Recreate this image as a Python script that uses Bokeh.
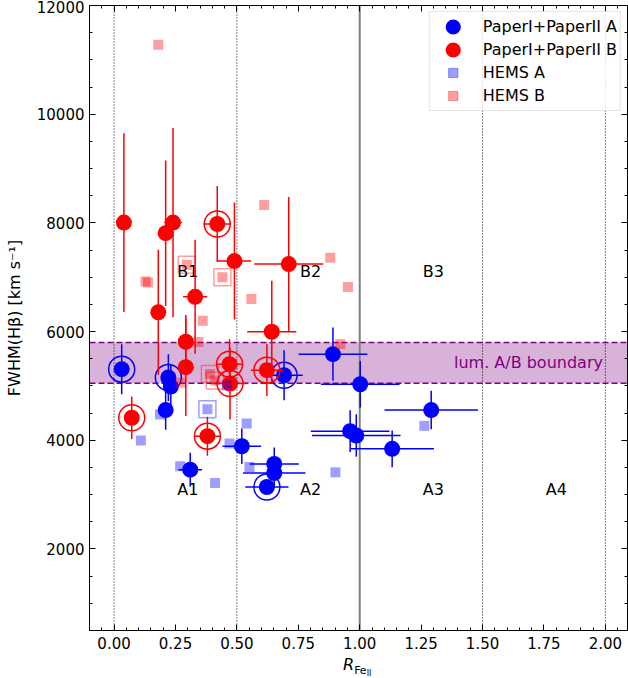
import numpy as np
from bokeh.plotting import figure
from bokeh.layouts import column
from bokeh.models import (Span, BoxAnnotation, Label, Legend, LegendItem, Div,
                          LinearAxis, Range1d, SingleIntervalTicker, NumeralTickFormatter)
from bokeh.embed import file_html
from bokeh.resources import INLINE
from bokeh.core.properties import value

FONT = "DejaVu Sans"

# ---------------- data ----------------
# PaperI+PaperII, population A (blue)
a_x = [0.031, 0.221, 0.231, 0.210, 0.310, 0.520, 0.652, 0.652, 0.622, 0.692, 0.891, 1.002, 1.291, 0.961, 0.986, 1.132]
a_y = [5308, 5155, 4988, 4556, 3460, 3890, 3565, 3398, 3140, 5197, 5585, 5031, 4556, 4168, 4088, 3842]
a_xerr = [0.0, 0.0, 0.0, 0.0, 0.048, 0.078, 0.100, 0.127, 0.088, 0.076, 0.140, 0.160, 0.190, 0.160, 0.180, 0.170]
a_yerr = [460, 430, 400, 360, 310, 325, 300, 250, 0, 460, 490, 430, 355, 385, 390, 340]
a_circled = [1, 1, 0, 0, 0, 0, 0, 0, 1, 1, 0, 0, 0, 0, 0, 0]

# PaperI+PaperII, population B (red)
b_x = [0.040, 0.210, 0.240, 0.420, 0.490, 0.711, 0.642, 0.180, 0.330, 0.292, 0.292, 0.072, 0.380, 0.470, 0.472, 0.622]
b_y = [8006, 7810, 8006, 7980, 7298, 7243, 5997, 6355, 6640, 5813, 5345, 4415, 4075, 5400, 5043, 5290]
b_xerr = [0.0, 0.0, 0.036, 0.056, 0.068, 0.140, 0.100, 0.0, 0.049, 0.0, 0.0, 0.0, 0.053, 0.054, 0.070, 0.065]
b_yerr = [1645, 1340, 1740, 700, 1075, 1235, 940, 1150, 1050, 490, 900, 390, 360, 460, 660, 475]
b_circled = [0, 0, 0, 1, 0, 0, 0, 0, 0, 0, 0, 1, 1, 1, 1, 1]

# HEMS A
ha_x = [0.109, 0.187, 0.380, 0.269, 0.411, 0.470, 0.540, 0.551, 1.263, 0.901, 0.459]
ha_y = [3996, 4476, 4569, 3521, 3214, 3940, 4310, 3510, 4265, 3410, 5010]
ha_boxed = [0, 0, 1, 0, 0, 0, 0, 0, 0, 0, 0]

# HEMS B
hb_x = [0.180, 0.128, 0.138, 0.296, 0.441, 0.559, 0.611, 0.880, 0.952, 0.361, 0.343, 0.390, 0.410, 0.921, 0.270]
hb_y = [11280, 6920, 6905, 7230, 7000, 6600, 8330, 7360, 6820, 6200, 5810, 5220, 5100, 5770, 5060]
hb_boxed = [0, 0, 0, 1, 1, 0, 0, 0, 0, 0, 0, 1, 1, 0, 0]

# luminosity A/B boundary band
band_low, band_high = 5050, 5800

# region boundaries and labels
dotted_x = [0.0, 0.5, 1.5, 2.0]
solid_x = 1.0
b_labels = ["B1", "B2", "B3"]
b_lab_x = [0.3, 0.8, 1.3]
b_lab_y = 7100
a_labels = ["A1", "A2", "A3", "A4"]
a_lab_x = [0.3, 0.8, 1.3, 1.8]
a_lab_y = 3100

BLUE = "#0000ff"
RED = "#ff0000"
PURPLE = "#800080"

p = figure(width=628, height=654, x_range=Range1d(-0.1, 2.09), y_range=Range1d(500, 12000),
           output_backend="svg", toolbar_location=None,
           min_border_left=89, min_border_right=1, min_border_top=5, min_border_bottom=24)
p.grid.visible = False
p.outline_line_color = "black"
p.outline_line_width = 1
p.background_fill_color = "white"
p.border_fill_color = "white"

# axes
p.xaxis.ticker = SingleIntervalTicker(interval=0.25, num_minor_ticks=5)
p.yaxis.ticker = SingleIntervalTicker(interval=2000, num_minor_ticks=4)
p.xaxis.formatter = NumeralTickFormatter(format="0.00")
p.yaxis.formatter = NumeralTickFormatter(format="0")
for ax in (p.xaxis[0], p.yaxis[0]):
    ax.major_tick_in = 6
    ax.major_tick_out = 0
    ax.minor_tick_in = 3
    ax.minor_tick_out = 0
    ax.axis_line_color = "black"
    ax.major_tick_line_color = "black"
    ax.minor_tick_line_color = "black"
    ax.major_label_text_font = FONT
    ax.major_label_text_font_size = "15px"
    ax.major_label_text_color = "black"
    ax.axis_label_text_font = FONT
    ax.axis_label_text_font_style = "normal"
    ax.axis_label_text_font_size = "16px"
    ax.axis_label_text_color = "black"
p.yaxis.axis_label = "FWHM(Hβ) [km s⁻¹]"
p.yaxis.axis_label_standoff = 10
p.xaxis.major_label_standoff = 6

# mirrored tick marks on top and right
for loc, tick in (("above", SingleIntervalTicker(interval=0.25, num_minor_ticks=5)),
                  ("right", SingleIntervalTicker(interval=2000, num_minor_ticks=4))):
    ax = LinearAxis(ticker=tick, major_label_text_font_size="1px", major_label_text_color=None,
                    major_label_standoff=0,
                    major_tick_in=6, major_tick_out=0, minor_tick_in=3, minor_tick_out=0,
                    axis_line_color="black")
    p.add_layout(ax, loc)

# band
p.add_layout(BoxAnnotation(bottom=band_low, top=band_high, fill_color=PURPLE, fill_alpha=0.3,
                           line_color=None, level="underlay"))
for yv in (band_low, band_high):
    p.add_layout(Span(location=yv, dimension="width", line_color=PURPLE, line_dash="6 3",
                      line_width=1.5, level="underlay"))
p.add_layout(Label(x=1.99, y=(band_low + band_high) / 2, text="lum. A/B boundary",
                   text_align="right", text_baseline="middle", text_color=PURPLE,
                   text_font=FONT, text_font_size="16px"))

for xv in dotted_x:
    p.add_layout(Span(location=xv, dimension="height", line_color="black", line_dash="1 2",
                      line_width=1, level="underlay"))
p.add_layout(Span(location=solid_x, dimension="height", line_color="gray", line_width=2,
                  level="underlay"))

# region labels
p.text(x=b_lab_x, y=[b_lab_y] * len(b_lab_x), text=b_labels, text_align="center",
       text_baseline="middle", text_font=value(FONT), text_font_size="16px", text_color="black")
p.text(x=a_lab_x, y=[a_lab_y] * len(a_lab_x), text=a_labels, text_align="center",
       text_baseline="middle", text_font=value(FONT), text_font_size="16px", text_color="black")


def paper_points(xs, ys, xe, ye, circ, color):
    xs = np.array(xs, float); ys = np.array(ys, float)
    xe = np.array(xe, float); ye = np.array(ye, float)
    circ = np.array(circ, bool)
    hx = xe > 0
    p.segment(x0=xs[hx] - xe[hx], x1=xs[hx] + xe[hx], y0=ys[hx], y1=ys[hx],
              line_color=color, line_width=1.5)
    hy = ye > 0
    p.segment(x0=xs[hy], x1=xs[hy], y0=ys[hy] - ye[hy], y1=ys[hy] + ye[hy],
              line_color=color, line_width=1.5)
    p.scatter(xs, ys, marker="circle", size=16, fill_color=color, line_color=None)
    p.scatter(xs[circ], ys[circ], marker="circle", size=26, fill_color=None,
              line_color=color, line_width=1.5)


def hems_points(xs, ys, boxed, color):
    xs = np.array(xs, float); ys = np.array(ys, float)
    boxed = np.array(boxed, bool)
    p.scatter(xs, ys, marker="square", size=10, fill_color=color, fill_alpha=0.38,
              line_color=None)
    p.scatter(xs[boxed], ys[boxed], marker="square", size=17, fill_color=None,
              line_color=color, line_alpha=0.38, line_width=1.5)


paper_points(a_x, a_y, a_xerr, a_yerr, a_circled, BLUE)
paper_points(b_x, b_y, b_xerr, b_yerr, b_circled, RED)
hems_points(ha_x, ha_y, ha_boxed, BLUE)
hems_points(hb_x, hb_y, hb_boxed, RED)

# legend swatches: renderers with a single NaN point (never drawn in the plot area)
nan = [float("nan")]
lA = p.scatter(x=nan, y=nan, marker="circle", size=16, fill_color=BLUE, line_color=BLUE, line_width=6)
lB = p.scatter(x=nan, y=nan, marker="circle", size=16, fill_color=RED, line_color=RED, line_width=6)
lHA = p.scatter(x=nan, y=nan, marker="square", size=10, fill_color=BLUE, fill_alpha=0.38,
                line_color=BLUE, line_alpha=0.38, line_width=1)
lHB = p.scatter(x=nan, y=nan, marker="square", size=10, fill_color=RED, fill_alpha=0.38,
                line_color=RED, line_alpha=0.38, line_width=1)

legend = Legend(items=[LegendItem(label="PaperI+PaperII A", renderers=[lA]),
                       LegendItem(label="PaperI+PaperII B", renderers=[lB]),
                       LegendItem(label="HEMS A", renderers=[lHA]),
                       LegendItem(label="HEMS B", renderers=[lHB])],
                location="top_right", glyph_width=40, glyph_height=23, label_height=23,
                spacing=0, padding=3, label_standoff=10, margin=6,
                label_text_font=FONT, label_text_font_size="16px", label_text_color="black",
                border_line_color="#cccccc", border_line_width=1,
                background_fill_alpha=0.8)
p.add_layout(legend, "center")

# x axis label R_{Fe_II}
xlabel = Div(text=(
    '<div style="font-family:\'DejaVu Sans\'; font-size:16px; color:black; '
    'position:relative; left:343px; top:1px; white-space:nowrap; line-height:20px;">'
    '<i>R</i><span style="font-size:11px; position:relative; top:4px;">Fe'
    '<span style="font-size:8px; position:relative; top:2px;">II</span></span></div>'),
    width=628, height=24, margin=(0, 0, 0, 0))

layout = column(p, xlabel, spacing=0)
open("out.html", "w").write(file_html(layout, INLINE))
